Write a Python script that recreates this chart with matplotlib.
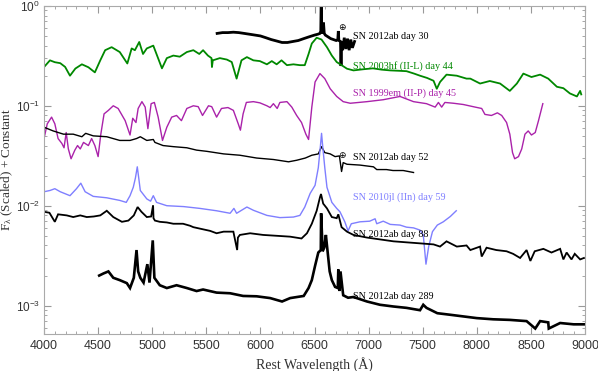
import matplotlib
matplotlib.use("Agg")
import matplotlib.pyplot as plt
from matplotlib.ticker import MultipleLocator, LogLocator, NullFormatter

plt.rcParams["font.family"] = ["Liberation Sans", "DejaVu Sans"]
plt.rcParams["mathtext.default"] = "regular"

# SN 2012ab day 30
wl_d30 = [5600, 5650, 5700, 5750, 5800, 5850, 5900, 5950, 6000, 6050, 6100, 6150, 6200,
          6250, 6300, 6350, 6400, 6450, 6500, 6530, 6550, 6558, 6562, 6566, 6575, 6583,
          6590, 6600, 6650, 6700, 6715, 6720, 6725, 6740, 6745, 6750, 6760, 6775, 6790,
          6805, 6820, 6835, 6850, 6870]
fl_d30 = [0.53, 0.54, 0.54, 0.545, 0.54, 0.53, 0.52, 0.51, 0.50, 0.48, 0.46, 0.445, 0.43,
          0.43, 0.44, 0.45, 0.47, 0.49, 0.51, 0.52, 0.53, 0.56, 1.3, 0.56, 0.53, 0.68,
          0.53, 0.51, 0.47, 0.45, 0.46, 0.56, 0.45, 0.44, 0.25, 0.44, 0.36, 0.48, 0.37,
          0.47, 0.36, 0.46, 0.38, 0.44]

# SN 2003hf (II-L) day 44
wl_03hf = [4000, 4055, 4100, 4150, 4195, 4240, 4290, 4350, 4410, 4470, 4520, 4565, 4625,
           4700, 4770, 4810, 4840, 4880, 4915, 4950, 5010, 5090, 5135, 5195, 5255, 5320,
           5380, 5435, 5470, 5515, 5548, 5552, 5560, 5625, 5690, 5735, 5780, 5825, 5875,
           5935, 5995, 6060, 6105, 6150, 6195, 6245, 6305, 6365, 6410, 6445, 6475, 6520,
           6565, 6615, 6660, 6705, 6750, 6800, 6860, 6950, 7040, 7120, 7200, 7280, 7350,
           7420, 7475, 7540, 7600, 7630, 7660, 7720, 7815, 7905, 7940, 8030, 8120, 8215,
           8305, 8370, 8430, 8505, 8585, 8660, 8740, 8800, 8860, 8925, 8955, 8965]
fl_03hf = [0.244, 0.285, 0.273, 0.267, 0.245, 0.20, 0.236, 0.26, 0.243, 0.216, 0.285, 0.36,
           0.386, 0.345, 0.265, 0.375, 0.36, 0.435, 0.33, 0.375, 0.40, 0.237, 0.30, 0.318,
           0.31, 0.345, 0.36, 0.33, 0.36, 0.318, 0.30, 0.244, 0.285, 0.30, 0.29, 0.274,
           0.187, 0.285, 0.307, 0.285, 0.28, 0.26, 0.28, 0.26, 0.285, 0.255, 0.26, 0.255,
           0.255, 0.33, 0.42, 0.48, 0.46, 0.386, 0.318, 0.274, 0.255, 0.235, 0.226, 0.232,
           0.237, 0.23, 0.226, 0.224, 0.222, 0.21, 0.20, 0.19, 0.178, 0.148, 0.173, 0.205,
           0.20, 0.187, 0.187, 0.167, 0.177, 0.167, 0.141, 0.167, 0.21, 0.194, 0.205, 0.187,
           0.155, 0.15, 0.133, 0.124, 0.141, 0.13]

# SN 1999em (II-P) day 45
wl_99em = [4000, 4030, 4070, 4100, 4130, 4165, 4185, 4205, 4225, 4250, 4285, 4310, 4335,
           4365, 4410, 4440, 4470, 4500, 4525, 4555, 4595, 4640, 4685, 4750, 4795, 4820,
           4850, 4870, 4905, 4935, 4960, 4990, 5020, 5055, 5095, 5135, 5180, 5225, 5270,
           5320, 5380, 5425, 5465, 5520, 5550, 5595, 5640, 5700, 5750, 5795, 5815, 5840,
           5870, 5935, 5995, 6060, 6090, 6120, 6155, 6180, 6245, 6290, 6335, 6380, 6420,
           6445, 6475, 6505, 6550, 6595, 6645, 6705, 6765, 6830, 6985, 7135, 7290, 7415,
           7535, 7615, 7645, 7675, 7705, 7785, 7875, 7985, 8045, 8075, 8135, 8190, 8230,
           8275, 8305, 8330, 8350, 8385, 8415, 8445, 8475, 8505, 8540, 8570, 8610]
fl_99em = [0.047, 0.066, 0.077, 0.066, 0.047, 0.042, 0.038, 0.054, 0.037, 0.0295, 0.036,
           0.040, 0.037, 0.043, 0.040, 0.047, 0.040, 0.031, 0.052, 0.083, 0.090, 0.10,
           0.094, 0.071, 0.051, 0.075, 0.068, 0.094, 0.11, 0.097, 0.059, 0.105, 0.108,
           0.077, 0.045, 0.061, 0.077, 0.080, 0.071, 0.094, 0.10, 0.098, 0.080, 0.10,
           0.098, 0.077, 0.094, 0.096, 0.090, 0.066, 0.057, 0.083, 0.108, 0.11, 0.107,
           0.10, 0.096, 0.105, 0.094, 0.108, 0.11, 0.097, 0.080, 0.068, 0.052, 0.046,
           0.097, 0.173, 0.21, 0.187, 0.148, 0.124, 0.11, 0.106, 0.11, 0.115, 0.124, 0.11,
           0.105, 0.097, 0.108, 0.097, 0.108, 0.106, 0.103, 0.097, 0.094, 0.082, 0.080,
           0.085, 0.080, 0.068, 0.052, 0.034, 0.0295, 0.031, 0.037, 0.052, 0.056, 0.051,
           0.054, 0.071, 0.105]

# SN 2012ab day 52
wl_d52 = [4000, 4085, 4180, 4270, 4350, 4385, 4455, 4580, 4700, 4795, 4855, 4890, 4950,
          5010, 5025, 5100, 5195, 5320, 5410, 5505, 5660, 5810, 5965, 6120, 6260, 6335,
          6415, 6475, 6535, 6565, 6595, 6645, 6690, 6730, 6750, 6765, 6800, 6920, 7045,
          7075, 7165, 7225, 7320, 7415]
fl_d52 = [0.061, 0.056, 0.052, 0.052, 0.049, 0.053, 0.050, 0.049, 0.045, 0.045, 0.047,
          0.049, 0.045, 0.046, 0.043, 0.040, 0.039, 0.038, 0.036, 0.035, 0.033, 0.032,
          0.030, 0.029, 0.0275, 0.0285, 0.030, 0.032, 0.033, 0.039, 0.034, 0.033, 0.031,
          0.0315, 0.022, 0.027, 0.026, 0.0255, 0.0245, 0.023, 0.023, 0.0225, 0.0225, 0.0215]

# SN 2010jl (IIn) day 59
wl_10jl = [4000, 4055, 4100, 4150, 4240, 4300, 4340, 4380, 4455, 4580, 4700, 4760, 4795,
           4825, 4845, 4862, 4878, 4890, 4950, 4985, 5010, 5040, 5135, 5290, 5440, 5595,
           5720, 5755, 5780, 5875, 5935, 6060, 6180, 6305, 6365, 6410, 6460, 6505, 6535,
           6555, 6565, 6575, 6595, 6615, 6660, 6705, 6735, 6780, 6810, 6840, 6920, 7010,
           7060, 7075, 7135, 7200, 7290, 7350, 7415, 7475, 7505, 7530, 7555, 7590, 7635,
           7690, 7755, 7810]
fl_10jl = [0.0138, 0.0142, 0.0148, 0.0138, 0.0126, 0.0148, 0.0168, 0.0138, 0.0124, 0.012,
           0.0113, 0.0108, 0.0126, 0.0153, 0.019, 0.0245, 0.018, 0.0142, 0.0117, 0.0111,
           0.0126, 0.0108, 0.010, 0.0098, 0.0094, 0.0089, 0.0084, 0.0094, 0.0084, 0.0097,
           0.009, 0.008, 0.0076, 0.0077, 0.008, 0.0097, 0.0133, 0.016, 0.024, 0.04, 0.053,
           0.04, 0.024, 0.0153, 0.0108, 0.0094, 0.0087, 0.0069, 0.0056, 0.0066, 0.0069,
           0.0070, 0.0074, 0.0066, 0.0070, 0.0065, 0.0064, 0.0061, 0.0060, 0.0057, 0.0051,
           0.0026, 0.0039, 0.0055, 0.0064, 0.0069, 0.0078, 0.0089]

# SN 2012ab day 88
wl_d88 = [4000, 4050, 4100, 4130, 4210, 4270, 4335, 4395, 4460, 4520, 4580, 4640, 4720,
          4780, 4830, 4865, 4900, 4950, 4990, 5008, 5012, 5025, 5070, 5135, 5195, 5285,
          5350, 5380, 5440, 5535, 5595, 5660, 5750, 5785, 5792, 5810, 5905, 6025, 6150,
          6275, 6380, 6430, 6475, 6520, 6550, 6560, 6580, 6615, 6660, 6705, 6720, 6750,
          6800, 6860, 6985, 7105, 7230, 7350, 7475, 7600, 7660, 7720, 7815, 7905, 7940,
          8030, 8045, 8090, 8180, 8275, 8335, 8400, 8460, 8495, 8535, 8615, 8690, 8770,
          8800, 8830, 8875, 8905, 8955, 8990]
fl_d88 = [0.0087, 0.0085, 0.0069, 0.0082, 0.0080, 0.0077, 0.0080, 0.0077, 0.0078, 0.0080,
          0.0089, 0.0077, 0.0069, 0.0071, 0.0080, 0.0097, 0.0087, 0.0077, 0.0078, 0.0101,
          0.0075, 0.0071, 0.0069, 0.0068, 0.0066, 0.0066, 0.0063, 0.0061, 0.0059, 0.0056,
          0.0053, 0.0055, 0.0055, 0.0036, 0.0048, 0.0051, 0.0053, 0.0051, 0.0050, 0.0049,
          0.0047, 0.0053, 0.0066, 0.0089, 0.0121, 0.0131, 0.0105, 0.0094, 0.0077, 0.0075,
          0.0082, 0.0061, 0.0055, 0.0051, 0.0048, 0.0046, 0.0044, 0.0043, 0.0042, 0.0041,
          0.0039, 0.0044, 0.0039, 0.0040, 0.0036, 0.0039, 0.0031, 0.0038, 0.0036, 0.0035,
          0.0033, 0.0030, 0.0036, 0.0028, 0.0035, 0.0037, 0.0034, 0.0037, 0.0029, 0.0034,
          0.0029, 0.0033, 0.0029, 0.0030]

# SN 2012ab day 289
wl_d289 = [4510, 4550, 4595, 4640, 4700, 4765, 4795, 4830, 4855, 4870, 4890, 4920, 4955,
           4975, 5005, 5020, 5070, 5135, 5225, 5320, 5410, 5470, 5595, 5720, 5840, 5965,
           6090, 6200, 6275, 6400, 6445, 6475, 6505, 6535, 6558, 6561, 6575, 6590, 6605,
           6615, 6640, 6660, 6690, 6715, 6720, 6730, 6740, 6765, 6810, 6860, 6985, 7105,
           7230, 7350, 7475, 7505, 7535, 7635, 7755, 7875, 8000, 8150, 8305, 8460, 8540,
           8585, 8660, 8665, 8770, 8895, 8990]
fl_d289 = [0.0020, 0.0021, 0.0022, 0.0019, 0.0018, 0.00168, 0.0015, 0.0019, 0.0036, 0.0022,
           0.0019, 0.0017, 0.0026, 0.0017, 0.0045, 0.0019, 0.0016, 0.0015, 0.0016, 0.0015,
           0.0014, 0.00145, 0.00135, 0.00133, 0.00125, 0.00124, 0.00119, 0.0011, 0.00119,
           0.00125, 0.0015, 0.0018, 0.0025, 0.0034, 0.0036, 0.0084, 0.0035, 0.0038, 0.0051,
           0.0040, 0.0022, 0.0018, 0.00154, 0.0015, 0.0023, 0.0014, 0.0022, 0.00127, 0.0012,
           0.00122, 0.0011, 0.00102, 0.00098, 0.00095, 0.0009, 0.00102, 0.00095, 0.00084,
           0.00081, 0.00078, 0.00075, 0.00073, 0.00072, 0.0007, 0.00059, 0.0007, 0.00068,
           0.00059, 0.00067, 0.00065, 0.00065]

green = "#008800"
magenta = "#aa22aa"
blue = "#7f7fff"
serif = "Liberation Serif"

fig = plt.figure(figsize=(5.98, 3.71), dpi=100)
ax = fig.add_axes([0.0736, 0.0997, 0.9047, 0.8845])

ax.plot(wl_d30, fl_d30, color="black", lw=2.0, solid_joinstyle="miter")
ax.plot(wl_03hf, fl_03hf, color=green, lw=1.3)
ax.plot(wl_99em, fl_99em, color=magenta, lw=1.0)
ax.plot(wl_d52, fl_d52, color="black", lw=1.0)
ax.plot(wl_10jl, fl_10jl, color=blue, lw=1.0)
ax.plot(wl_d88, fl_d88, color="black", lw=1.3, solid_joinstyle="miter")
ax.plot(wl_d289, fl_d289, color="black", lw=1.9, solid_joinstyle="miter")

ax.set_yscale("log")
ax.set_xlim(4000, 9000)
ax.set_ylim(5.2e-4, 1)

lab = dict(fontsize=7.3, family=serif, va="center", ha="left")
ax.text(6852, 0.49, "SN 2012ab day 30", color="black", **lab)
ax.text(6852, 0.248, "SN 2003hf (II-L) day 44", color=green, **lab)
ax.text(6852, 0.134, "SN 1999em (II-P) day 45", color=magenta, **lab)
ax.text(6852, 0.0305, "SN 2012ab day 52", color="black", **lab)
ax.text(6852, 0.0123, "SN 2010jl (IIn) day 59", color=blue, **lab)
ax.text(6852, 0.0051, "SN 2012ab day 88", color="black", **lab)
ax.text(6852, 0.00124, "SN 2012ab day 289", color="black", **lab)
ax.text(6750, 0.61, "\u2295", fontsize=6.5, family="DejaVu Sans", ha="center", va="center")
ax.text(6750, 0.032, "\u2295", fontsize=6.5, family="DejaVu Sans", ha="center", va="center")

ax.xaxis.set_major_locator(MultipleLocator(500))
ax.xaxis.set_minor_locator(MultipleLocator(100))
ax.yaxis.set_major_locator(LogLocator(base=10))
ax.yaxis.set_minor_locator(LogLocator(base=10, subs=range(2, 10)))
ax.yaxis.set_minor_formatter(NullFormatter())
ax.tick_params(which="both", direction="in", top=True, right=True, color="#999999")
ax.tick_params(which="major", length=5, labelsize=9, labelcolor="#333333", pad=4)
ax.tick_params(axis="y", which="major", pad=3, labelsize=8.5)
ax.tick_params(which="minor", length=2.5)
for s in ax.spines.values():
    s.set_color("#aaaaaa")

ax.set_xlabel("Rest Wavelength (\u00c5)", family=serif, fontsize=10, color="#333333")
ax.set_ylabel(r"F$_\lambda$ (Scaled) + Constant", family=serif, fontsize=9.5, color="#333333")
ax.yaxis.set_label_coords(-0.053, 0.5)

fig.savefig("out.png", dpi=100)
